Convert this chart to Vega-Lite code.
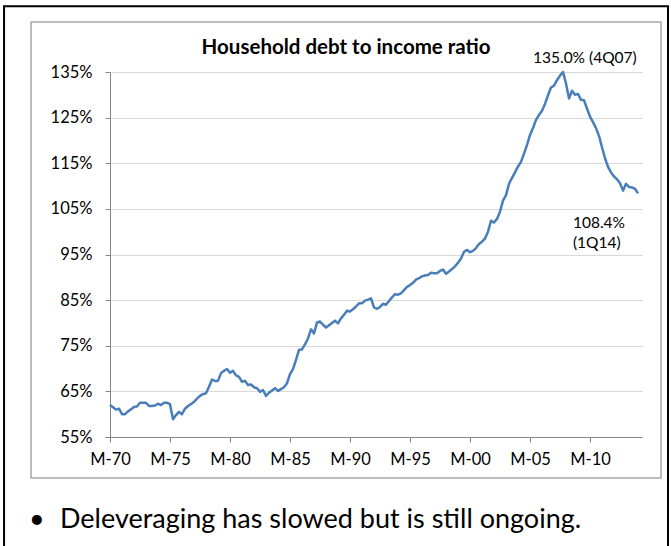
{
  "$schema": "https://vega.github.io/schema/vega-lite/v6.json",
  "width": 532,
  "height": 365,
  "autosize": {"type": "none"},
  "padding": {"left": 110, "top": 72, "right": 29, "bottom": 109},
  "background": "white",
  "config": {
    "view": {"stroke": null},
    "font": "Lato",
    "axis": {"labelFont": "Lato", "labelColor": "#000000", "domainColor": "#868686", "tickColor": "#868686", "gridColor": "#d9d9d9", "titleFont": "Lato"}
  },
  "datasets": {
    "ratio": [
      {"t": 1970.00, "v": 62.0}, {"t": 1970.25, "v": 61.5}, {"t": 1970.50, "v": 61.0}, {"t": 1970.75, "v": 61.2},
      {"t": 1971.00, "v": 60.0}, {"t": 1971.25, "v": 60.0}, {"t": 1971.50, "v": 60.6}, {"t": 1971.75, "v": 61.1},
      {"t": 1972.00, "v": 61.6}, {"t": 1972.25, "v": 61.7}, {"t": 1972.50, "v": 62.5}, {"t": 1972.75, "v": 62.5},
      {"t": 1973.00, "v": 62.5}, {"t": 1973.25, "v": 61.8}, {"t": 1973.50, "v": 61.8}, {"t": 1973.75, "v": 61.9},
      {"t": 1974.00, "v": 62.3}, {"t": 1974.25, "v": 62.0}, {"t": 1974.50, "v": 62.5}, {"t": 1974.75, "v": 62.5},
      {"t": 1975.00, "v": 62.2}, {"t": 1975.25, "v": 58.9}, {"t": 1975.50, "v": 59.8}, {"t": 1975.75, "v": 60.5},
      {"t": 1976.00, "v": 60.0}, {"t": 1976.25, "v": 61.2}, {"t": 1976.50, "v": 61.8}, {"t": 1976.75, "v": 62.2},
      {"t": 1977.00, "v": 62.7}, {"t": 1977.25, "v": 63.4}, {"t": 1977.50, "v": 64.0}, {"t": 1977.75, "v": 64.4},
      {"t": 1978.00, "v": 64.6}, {"t": 1978.25, "v": 66.0}, {"t": 1978.50, "v": 67.6}, {"t": 1978.75, "v": 67.3},
      {"t": 1979.00, "v": 67.3}, {"t": 1979.25, "v": 69.0}, {"t": 1979.50, "v": 69.5}, {"t": 1979.75, "v": 69.9},
      {"t": 1980.00, "v": 69.1}, {"t": 1980.25, "v": 69.5}, {"t": 1980.50, "v": 68.5}, {"t": 1980.75, "v": 68.2},
      {"t": 1981.00, "v": 67.1}, {"t": 1981.25, "v": 67.3}, {"t": 1981.50, "v": 66.4}, {"t": 1981.75, "v": 66.5},
      {"t": 1982.00, "v": 65.9}, {"t": 1982.25, "v": 65.7}, {"t": 1982.50, "v": 64.9}, {"t": 1982.75, "v": 65.3},
      {"t": 1983.00, "v": 64.0}, {"t": 1983.25, "v": 64.7}, {"t": 1983.50, "v": 65.2}, {"t": 1983.75, "v": 65.7},
      {"t": 1984.00, "v": 65.1}, {"t": 1984.25, "v": 65.5}, {"t": 1984.50, "v": 65.9}, {"t": 1984.75, "v": 66.8},
      {"t": 1985.00, "v": 68.8}, {"t": 1985.25, "v": 69.9}, {"t": 1985.50, "v": 71.9}, {"t": 1985.75, "v": 74.1},
      {"t": 1986.00, "v": 74.2}, {"t": 1986.25, "v": 75.3}, {"t": 1986.50, "v": 76.6}, {"t": 1986.75, "v": 78.6},
      {"t": 1987.00, "v": 77.7}, {"t": 1987.25, "v": 80.1}, {"t": 1987.50, "v": 80.3}, {"t": 1987.75, "v": 79.6},
      {"t": 1988.00, "v": 79.0}, {"t": 1988.25, "v": 79.5}, {"t": 1988.50, "v": 80.0}, {"t": 1988.75, "v": 80.5},
      {"t": 1989.00, "v": 79.9}, {"t": 1989.25, "v": 81.0}, {"t": 1989.50, "v": 81.8}, {"t": 1989.75, "v": 82.7},
      {"t": 1990.00, "v": 82.5}, {"t": 1990.25, "v": 83.0}, {"t": 1990.50, "v": 83.6}, {"t": 1990.75, "v": 84.3},
      {"t": 1991.00, "v": 84.3}, {"t": 1991.25, "v": 84.9}, {"t": 1991.50, "v": 85.1}, {"t": 1991.75, "v": 85.4},
      {"t": 1992.00, "v": 83.4}, {"t": 1992.25, "v": 83.1}, {"t": 1992.50, "v": 83.5}, {"t": 1992.75, "v": 84.2},
      {"t": 1993.00, "v": 84.0}, {"t": 1993.25, "v": 84.8}, {"t": 1993.50, "v": 85.6}, {"t": 1993.75, "v": 86.3},
      {"t": 1994.00, "v": 86.2}, {"t": 1994.25, "v": 86.5}, {"t": 1994.50, "v": 87.2}, {"t": 1994.75, "v": 87.9},
      {"t": 1995.00, "v": 88.3}, {"t": 1995.25, "v": 88.8}, {"t": 1995.50, "v": 89.5}, {"t": 1995.75, "v": 89.8},
      {"t": 1996.00, "v": 90.2}, {"t": 1996.25, "v": 90.4}, {"t": 1996.50, "v": 90.5}, {"t": 1996.75, "v": 91.0},
      {"t": 1997.00, "v": 90.9}, {"t": 1997.25, "v": 90.9}, {"t": 1997.50, "v": 91.4}, {"t": 1997.75, "v": 91.7},
      {"t": 1998.00, "v": 90.8}, {"t": 1998.25, "v": 91.3}, {"t": 1998.50, "v": 91.8}, {"t": 1998.75, "v": 92.4},
      {"t": 1999.00, "v": 93.2}, {"t": 1999.25, "v": 94.1}, {"t": 1999.50, "v": 95.6}, {"t": 1999.75, "v": 96.0},
      {"t": 2000.00, "v": 95.5}, {"t": 2000.25, "v": 95.8}, {"t": 2000.50, "v": 96.4}, {"t": 2000.75, "v": 97.3},
      {"t": 2001.00, "v": 97.8}, {"t": 2001.25, "v": 98.5}, {"t": 2001.50, "v": 100.0}, {"t": 2001.75, "v": 102.4},
      {"t": 2002.00, "v": 102.0}, {"t": 2002.25, "v": 102.8}, {"t": 2002.50, "v": 104.4}, {"t": 2002.75, "v": 106.8},
      {"t": 2003.00, "v": 108.0}, {"t": 2003.25, "v": 110.5}, {"t": 2003.50, "v": 111.8}, {"t": 2003.75, "v": 113.0},
      {"t": 2004.00, "v": 114.3}, {"t": 2004.25, "v": 115.3}, {"t": 2004.50, "v": 117.1}, {"t": 2004.75, "v": 119.0},
      {"t": 2005.00, "v": 121.2}, {"t": 2005.25, "v": 122.7}, {"t": 2005.50, "v": 124.5}, {"t": 2005.75, "v": 125.6},
      {"t": 2006.00, "v": 126.5}, {"t": 2006.25, "v": 128.0}, {"t": 2006.50, "v": 129.9}, {"t": 2006.75, "v": 131.6},
      {"t": 2007.00, "v": 132.0}, {"t": 2007.25, "v": 133.2}, {"t": 2007.50, "v": 134.2}, {"t": 2007.75, "v": 135.0},
      {"t": 2008.00, "v": 132.5}, {"t": 2008.25, "v": 129.2}, {"t": 2008.50, "v": 130.9}, {"t": 2008.75, "v": 130.0},
      {"t": 2009.00, "v": 130.2}, {"t": 2009.25, "v": 128.9}, {"t": 2009.50, "v": 128.8}, {"t": 2009.75, "v": 127.0},
      {"t": 2010.00, "v": 125.2}, {"t": 2010.25, "v": 124.0}, {"t": 2010.50, "v": 122.7}, {"t": 2010.75, "v": 121.0},
      {"t": 2011.00, "v": 118.5}, {"t": 2011.25, "v": 116.1}, {"t": 2011.50, "v": 114.2}, {"t": 2011.75, "v": 113.0},
      {"t": 2012.00, "v": 112.1}, {"t": 2012.25, "v": 111.5}, {"t": 2012.50, "v": 110.6}, {"t": 2012.75, "v": 109.0},
      {"t": 2013.00, "v": 110.5}, {"t": 2013.25, "v": 109.8}, {"t": 2013.50, "v": 109.7}, {"t": 2013.75, "v": 109.4},
      {"t": 2014.00, "v": 108.4}
    ],
    "heading": [
      {"t": 1989.67, "v": 140.3, "label": "Household debt to income ratio"}
    ],
    "notes": [
      {"t": 2005.25, "v": 138.1, "label": "135.0% (4Q07)"},
      {"t": 2008.58, "v": 101.9, "label": "108.4%"},
      {"t": 2008.58, "v": 97.5, "label": "(1Q14)"}
    ],
    "bullet": [
      {"t": 1963.25, "v": 36.8, "label": "•"},
      {"t": 1965.83, "v": 36.8, "label": "Deleveraging has slowed but is still ongoing."}
    ]
  },
  "layer": [
    {
      "data": {"values": [{"box": "outer"}]},
      "mark": {"type": "rect", "filled": false, "color": "#000000", "strokeWidth": 2, "clip": false},
      "encoding": {
        "x": {"datum": 1961.17, "type": "quantitative", "scale": {"domain": [1970, 2014.333], "nice": false, "zero": false}},
        "x2": {"datum": 2016.5},
        "y": {"datum": 149.4, "type": "quantitative", "scale": {"domain": [55, 135], "nice": false, "zero": false}},
        "y2": {"datum": 28.0}
      }
    },
    {
      "data": {"values": [{"box": "inner"}]},
      "mark": {"type": "rect", "filled": false, "color": "#a6a6a6", "strokeWidth": 1.5, "clip": false},
      "encoding": {
        "x": {"datum": 1963.42, "type": "quantitative"},
        "x2": {"datum": 2015.92},
        "y": {"datum": 145.96, "type": "quantitative"},
        "y2": {"datum": 46.01}
      }
    },
    {
      "data": {"name": "ratio"},
      "mark": {"type": "line", "color": "#4a7ebb", "strokeWidth": 2.5, "strokeJoin": "round"},
      "encoding": {
        "x": {
          "field": "t", "type": "quantitative",
          "scale": {"domain": [1970, 2014.333], "nice": false, "zero": false},
          "axis": {"title": null, "values": [1970, 1975, 1980, 1985, 1990, 1995, 2000, 2005, 2010], "labelExpr": "'M-' + substring(toString(datum.value), 2, 4)", "labelFlush": false, "labelOverlap": false, "grid": false, "tickSize": 5, "labelPadding": 9, "labelFontSize": 16.5, "domainWidth": 1, "tickWidth": 1}
        },
        "y": {
          "field": "v", "type": "quantitative",
          "scale": {"domain": [55, 135], "nice": false, "zero": false},
          "axis": {"title": null, "values": [55, 65, 75, 85, 95, 105, 115, 125, 135], "labelExpr": "datum.value + '%'", "labelFlush": false, "labelOverlap": false, "grid": true, "gridWidth": 1, "tickSize": 5, "labelPadding": 13, "labelFontSize": 16.5, "domainWidth": 1, "tickWidth": 1}
        }
      }
    },
    {
      "data": {"name": "heading"},
      "mark": {"type": "text", "align": "center", "baseline": "middle", "fontSize": 20.5, "fontWeight": "bold", "font": "Lato", "color": "#000000"},
      "encoding": {
        "x": {"field": "t", "type": "quantitative"},
        "y": {"field": "v", "type": "quantitative"},
        "text": {"field": "label"}
      }
    },
    {
      "data": {"name": "notes"},
      "mark": {"type": "text", "align": "left", "baseline": "middle", "fontSize": 15.5, "font": "Lato", "color": "#000000"},
      "encoding": {
        "x": {"field": "t", "type": "quantitative"},
        "y": {"field": "v", "type": "quantitative"},
        "text": {"field": "label"}
      }
    },
    {
      "data": {"name": "bullet"},
      "mark": {"type": "text", "align": "left", "baseline": "middle", "fontSize": 27, "font": "Lato", "color": "#000000"},
      "encoding": {
        "x": {"field": "t", "type": "quantitative"},
        "y": {"field": "v", "type": "quantitative"},
        "text": {"field": "label"}
      }
    }
  ]
}
